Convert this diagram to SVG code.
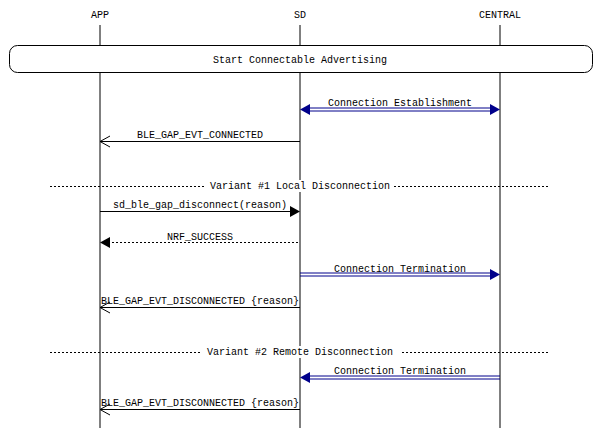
<svg xmlns="http://www.w3.org/2000/svg" width="600" height="428" viewBox="0 0 600 428">
<style>
text{font-family:"Liberation Mono","DejaVu Sans Mono",monospace;font-size:10px;fill:#000;text-anchor:middle}
.l{stroke:#000;stroke-width:1;fill:none}
.d{stroke:#000;stroke-width:1;stroke-dasharray:2,2;fill:none}
.n{stroke:#00008b;stroke-width:1;fill:none}
.nf{fill:#00008b}
</style>
<rect width="600" height="428" fill="#fff"/>
<g id="APP"><text x="100" y="18">APP</text><line class="l" x1="100" y1="25" x2="100" y2="428"/></g>
<g id="SD"><text x="300" y="18">SD</text><line class="l" x1="300" y1="25" x2="300" y2="428"/></g>
<g id="CENTRAL"><text x="500" y="18">CENTRAL</text><line class="l" x1="500" y1="25" x2="500" y2="428"/></g>
<g id="box"><rect x="9.5" y="45.5" width="583" height="27" rx="8" fill="#fff" stroke="#000"/><text x="300" y="63">Start Connectable Advertising</text></g>
<g id="connectors">
<text x="400" y="106">Connection Establishment</text>
<line class="n" x1="308" y1="108" x2="492" y2="108"/><line class="n" x1="308" y1="111" x2="492" y2="111"/>
<polygon class="nf" points="300,109.5 310,104 310,115"/><polygon class="nf" points="500,109.5 490,104 490,115"/>
<text x="200" y="138">BLE_GAP_EVT_CONNECTED</text>
<line class="l" x1="100" y1="141.5" x2="300" y2="141.5"/><polyline class="l" points="110,136 100,141.5 110,147"/>
<line class="d" x1="50" y1="186.5" x2="550" y2="186.5"/>
<rect x="206" y="180" width="188" height="12" fill="#fff"/>
<text x="300" y="189">Variant #1 Local Disconnection</text>
<text x="200" y="208">sd_ble_gap_disconnect(reason)</text>
<line class="l" x1="100" y1="211.5" x2="292" y2="211.5"/><polygon points="300,211.5 290,206 290,217"/>
<text x="200" y="240">NRF_SUCCESS</text>
<line class="d" x1="108" y1="242.5" x2="300" y2="242.5"/><polygon points="100,242.5 110,237 110,248"/>
<text x="400" y="272">Connection Termination</text>
<line class="n" x1="300" y1="273" x2="492" y2="273"/><line class="n" x1="300" y1="276" x2="492" y2="276"/>
<polygon class="nf" points="500,274.5 490,269 490,280"/>
<text x="200" y="304">BLE_GAP_EVT_DISCONNECTED {reason}</text>
<line class="l" x1="100" y1="307.5" x2="300" y2="307.5"/><polyline class="l" points="110,302 100,307.5 110,313"/>
<line class="d" x1="50" y1="352.5" x2="550" y2="352.5"/>
<rect x="200" y="346" width="200" height="12" fill="#fff"/>
<text x="300" y="355">Variant #2 Remote Disconnection</text>
<text x="400" y="374">Connection Termination</text>
<line class="n" x1="308" y1="376" x2="500" y2="376"/><line class="n" x1="308" y1="379" x2="500" y2="379"/>
<polygon class="nf" points="300,377.5 310,372 310,383"/>
<text x="200" y="406">BLE_GAP_EVT_DISCONNECTED {reason}</text>
<line class="l" x1="100" y1="409.5" x2="300" y2="409.5"/><polyline class="l" points="110,404 100,409.5 110,415"/>
</g>
</svg>
